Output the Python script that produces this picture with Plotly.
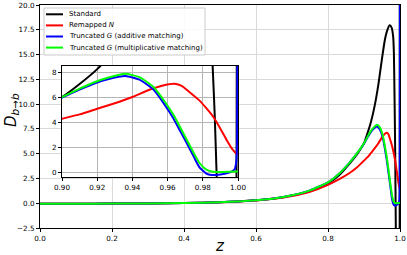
import plotly.graph_objects as go

# ---------------- data ----------------
z_std = [0.0, 0.1, 0.2, 0.3, 0.4, 0.5, 0.55, 0.6, 0.65, 0.7, 0.75, 0.8, 0.83, 0.86, 0.88, 0.89,
         0.9, 0.91, 0.92, 0.93, 0.94, 0.95, 0.958, 0.965, 0.9716, 0.977, 0.981, 0.983,
         0.9845, 0.9856, 0.9868, 0.9879, 0.989, 0.991, 0.995, 0.998, 0.999, 0.9993, 0.9996]
d_std = [-0.05, -0.05, -0.04, -0.02, 0.02, 0.1, 0.18, 0.3, 0.47, 0.78, 1.25, 2.0, 2.8, 4.0, 4.9, 5.45,
         6.05, 7.1, 8.3, 9.9, 12.0, 14.6, 16.5, 17.5, 17.95, 17.7, 16.8, 15.2,
         11.5, 8.5, 4.5, -0.4, -5.0, -15.0, -30.0, -25.0, -8.0, 10.0, 40.0]

z_rem = [0.0, 0.1, 0.2, 0.3, 0.4, 0.5, 0.55, 0.6, 0.65, 0.7, 0.75, 0.8, 0.83, 0.86, 0.88,
         0.9, 0.91, 0.92, 0.93, 0.94, 0.95, 0.958, 0.964, 0.968, 0.972, 0.978, 0.982,
         0.986, 0.99, 0.9936, 0.997, 0.9993, 1.0]
d_rem = [-0.05, -0.05, -0.04, -0.02, 0.02, 0.1, 0.17, 0.28, 0.44, 0.72, 1.15, 1.85, 2.4, 3.05, 3.6,
         4.3, 4.65, 5.1, 5.55, 6.05, 6.65, 7.0, 7.12, 6.95, 6.5, 5.78, 5.15,
         4.44, 3.5, 2.57, 1.8, 1.45, 2.3]

z_add = [0.0, 0.1, 0.2, 0.3, 0.4, 0.5, 0.55, 0.6, 0.65, 0.7, 0.75, 0.8, 0.83, 0.86, 0.88,
         0.9, 0.91, 0.918, 0.926, 0.936, 0.944, 0.952, 0.958, 0.963, 0.967, 0.971, 0.975,
         0.978, 0.982, 0.985, 0.99, 0.995, 0.998, 0.999, 0.9995, 1.0]
d_add = [-0.05, -0.05, -0.04, -0.02, 0.02, 0.1, 0.18, 0.3, 0.48, 0.8, 1.3, 2.1, 2.95, 4.1, 5.0,
         6.0, 6.65, 7.12, 7.48, 7.75, 7.45, 6.65, 5.5, 4.4, 3.35, 2.3, 1.2,
         0.4, -0.12, -0.24, -0.2, -0.05, 0.2, 0.8, 2.5, 40.0]

z_mul = [0.0, 0.1, 0.2, 0.3, 0.4, 0.5, 0.55, 0.6, 0.65, 0.7, 0.75, 0.8, 0.83, 0.86, 0.88,
         0.9, 0.91, 0.918, 0.926, 0.936, 0.944, 0.952, 0.958, 0.963, 0.967, 0.971, 0.975,
         0.978, 0.982, 0.986, 0.99, 0.995, 1.0]
d_mul = [-0.05, -0.05, -0.04, -0.02, 0.02, 0.1, 0.18, 0.3, 0.48, 0.8, 1.3, 2.1, 2.95, 4.1, 5.0,
         6.05, 6.72, 7.22, 7.6, 7.92, 7.65, 6.85, 5.75, 4.7, 3.65, 2.57, 1.5,
         0.75, 0.2, 0.02, 0.0, 0.02, 0.05]

series = [
    ("Standard", z_std, d_std, "#000000"),
    ("Remapped <i>N</i>", z_rem, d_rem, "#ff0000"),
    ("Truncated <i>G</i> (additive matching)", z_add, d_add, "#0000ff"),
    ("Truncated <i>G</i> (multiplicative matching)", z_mul, d_mul, "#00ff00"),
]

x_ticks = [0.0, 0.2, 0.4, 0.6, 0.8, 1.0]
y_ticks = [-2.5, 0.0, 2.5, 5.0, 7.5, 10.0, 12.5, 15.0, 17.5, 20.0]
x_ticks_in = [0.90, 0.92, 0.94, 0.96, 0.98, 1.00]
y_ticks_in = [0, 2, 4, 6, 8]

# ---------------- figure ----------------
W, H = 407, 255
ML, MR, MT, MB = 40, 7, 5, 27
PW, PH = W - ML - MR, H - MT - MB
FONT = "DejaVu Sans"
TICK = 7.2

fig = go.Figure()
for name, zs, ds, col in series:
    fig.add_trace(go.Scatter(x=zs, y=ds, mode="lines", name=name,
                             line=dict(color=col, width=2, shape="spline", smoothing=0.5),
                             xaxis="x", yaxis="y", showlegend=False, hoverinfo="skip"))
for name, zs, ds, col in series:
    fig.add_trace(go.Scatter(x=zs, y=ds, mode="lines", name=name,
                             line=dict(color=col, width=2, shape="spline", smoothing=0.5),
                             xaxis="x2", yaxis="y2", showlegend=False, hoverinfo="skip"))

def fmt(v, n):
    return f"{v:.{n}f}".replace("-", "\u2212")

axis_common = dict(showline=True, linecolor="black", linewidth=1, mirror=True,
                   ticks="outside", ticklen=3, tickcolor="black", tickwidth=1,
                   zeroline=False, automargin=False, ticklabeloverflow="allow",
                   tickfont=dict(family=FONT, size=TICK, color="black"))

fig.update_layout(
    width=W, height=H,
    margin=dict(l=ML, r=MR, t=MT, b=MB, autoexpand=False),
    paper_bgcolor="white", plot_bgcolor="white",
    font=dict(family=FONT, color="black"),
    xaxis=dict(range=[0, 1], domain=[0, 1], tickvals=x_ticks,
               ticktext=[fmt(v, 1) for v in x_ticks],
               showgrid=True, gridcolor="#d9d9d9", gridwidth=1, **axis_common),
    yaxis=dict(range=[-2.5, 20.001], domain=[0, 1], tickvals=y_ticks,
               ticktext=[fmt(v, 1) for v in y_ticks],
               showgrid=True, gridcolor="#d9d9d9", gridwidth=1, **axis_common),
    xaxis2=dict(range=[0.9, 1.0], domain=[(62 - ML) / PW, (238 - ML) / PW],
                anchor="y2", tickvals=x_ticks_in,
                ticktext=[fmt(v, 2) for v in x_ticks_in],
                showgrid=True, gridcolor="#b5b5b5", gridwidth=1, **axis_common),
    yaxis2=dict(range=[-0.4, 8.55], domain=[(H - MB - 177) / PH, (H - MB - 66) / PH],
                anchor="x2", tickvals=y_ticks_in,
                ticktext=[str(v) for v in y_ticks_in],
                showgrid=True, gridcolor="#b5b5b5", gridwidth=1, **axis_common),
    showlegend=False,
    hovermode=False,
)

# ---------------- legend + axis titles ----------------
def px(x):
    return (x - ML) / PW

def py(y):
    return (H - MB - y) / PH

shapes = [dict(type="rect", xref="paper", yref="paper",
               x0=px(44), x1=px(205), y0=py(55), y1=py(8),
               line=dict(color="#cccccc", width=1), fillcolor="rgba(255,255,255,0.85)",
               layer="above")]
annos = []
leg_y = [14.3, 25.4, 36.5, 47.6]
for (name, zs, ds, col), yy in zip(series, leg_y):
    shapes.append(dict(type="line", xref="paper", yref="paper",
                       x0=px(46), x1=px(63), y0=py(yy), y1=py(yy),
                       line=dict(color=col, width=2), layer="above"))
    annos.append(dict(xref="paper", yref="paper", x=px(67), y=py(yy), text=name,
                      showarrow=False, xanchor="left", yanchor="middle",
                      font=dict(family=FONT, size=7, color="black")))

annos.append(dict(xref="paper", yref="paper", x=px(220), y=py(246), text="<i>z</i>",
                  showarrow=False, xanchor="center", yanchor="middle",
                  font=dict(family=FONT, size=15, color="black")))
annos.append(dict(xref="paper", yref="paper", x=px(11), y=py(110),
                  text="<i>D</i><sub><i>b\u2192b</i></sub>", textangle=-90,
                  showarrow=False, xanchor="center", yanchor="middle",
                  font=dict(family=FONT, size=15, color="black")))
fig.update_layout(shapes=shapes, annotations=annos)

fig.write_html("out.html", config={"displayModeBar": False, "staticPlot": True},
               post_script="document.body.style.margin='0';document.body.style.overflow='hidden';")
